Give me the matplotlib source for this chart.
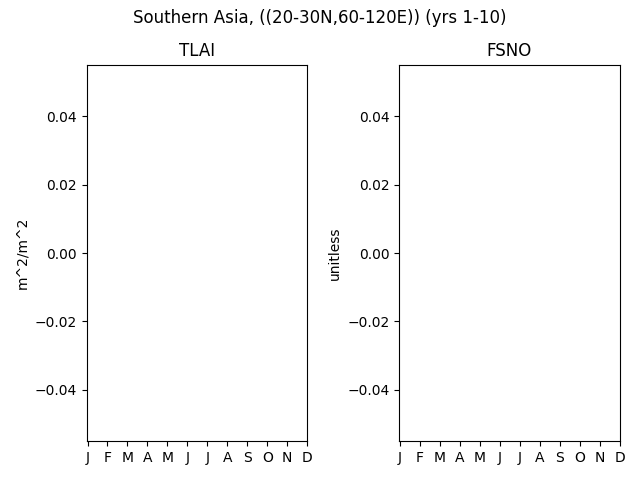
import numpy as np
import matplotlib

matplotlib.use("Agg")
import matplotlib.pyplot as plt

# monthly climatology, region had no valid data -> all missing
months = [1, 2, 3, 4, 5, 6, 7, 8, 9, 10, 11, 12]
month_labels = ["J", "F", "M", "A", "M", "J", "J", "A", "S", "O", "N", "D"]
tlai = [np.nan, np.nan, np.nan, np.nan, np.nan, np.nan,
        np.nan, np.nan, np.nan, np.nan, np.nan, np.nan]
fsno = [np.nan, np.nan, np.nan, np.nan, np.nan, np.nan,
        np.nan, np.nan, np.nan, np.nan, np.nan, np.nan]

panels = [("TLAI", "m^2/m^2", tlai), ("FSNO", "unitless", fsno)]

fig, axes = plt.subplots(1, 2, figsize=(6.4, 4.8), dpi=100)
for ax, (name, units, vals) in zip(axes, panels):
    ax.plot(months, vals)
    ax.set_title(name)
    ax.set_ylabel(units)
    ax.set_xticks(months)
    ax.set_xticklabels(month_labels)
    ax.set_xlim(0.95, 12)
    ax.set_ylim(-0.055, 0.055)

fig.suptitle("Southern Asia, ((20-30N,60-120E)) (yrs 1-10)", y=0.982)
fig.tight_layout()
fig.subplots_adjust(top=0.865)
fig.savefig("out.png")
